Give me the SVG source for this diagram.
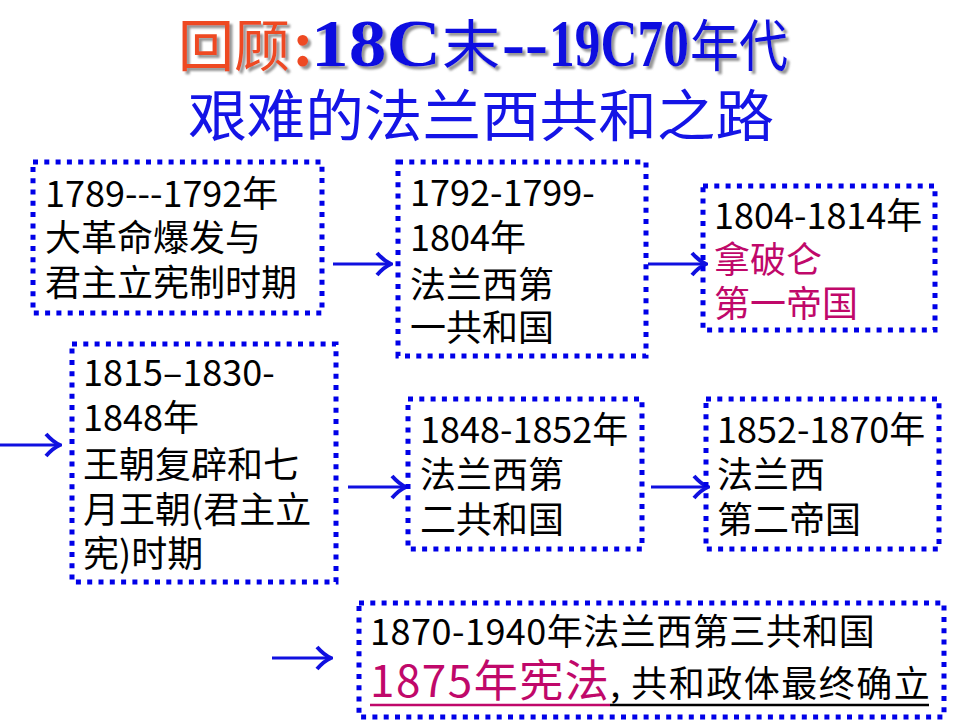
<svg xmlns="http://www.w3.org/2000/svg" width="960" height="720" viewBox="0 0 960 720">
<defs>
<style>
.box{fill:none;stroke:#0000E8;stroke-width:5;stroke-dasharray:5 6.3}
.t{font-family:"Noto Sans CJK SC","Noto Sans",sans-serif;font-size:36px;fill:#000}
.m{fill:#C0086A}
.conn{stroke:#1010E0;stroke-width:3;fill:none}
.ser{font-family:"Liberation Serif","Times New Roman",serif;font-weight:bold}
.cjk{font-family:"Noto Sans CJK SC",sans-serif}
</style>
<filter id="sh" x="-5%" y="-20%" width="110%" height="140%">
<feDropShadow dx="3" dy="3" stdDeviation="1" flood-color="#8a8a8a" flood-opacity="0.9"/>
</filter>
<marker id="ah" markerUnits="userSpaceOnUse" viewBox="-18 -14 20 28" refX="0" refY="0" markerWidth="20" markerHeight="28" orient="auto">
<path d="M-14,-11 Q-7,-3 0,0 Q-7,3 -14,11" stroke="#1010E0" stroke-width="4" fill="none" stroke-linejoin="miter"/>
</marker>
</defs>
<rect width="960" height="720" fill="#fff"/>

<g id="title" filter="url(#sh)" font-size="56">
<text class="cjk" x="178" y="66" fill="#EE4A22" textLength="112" lengthAdjust="spacingAndGlyphs">回顾</text>
<text class="ser" x="292" y="66" fill="#EE4A22" font-size="66">:</text>
<text class="ser" x="311" y="66" fill="#1010E0" font-size="68" textLength="130" lengthAdjust="spacingAndGlyphs">18C</text>
<text class="cjk" x="442" y="66" fill="#1010E0" textLength="58" lengthAdjust="spacingAndGlyphs">末</text>
<text class="ser" x="502" y="66" fill="#1010E0" font-size="68" textLength="46" lengthAdjust="spacingAndGlyphs">--</text>
<text class="ser" x="549" y="66" fill="#1010E0" font-size="68" textLength="140" lengthAdjust="spacingAndGlyphs">19C70</text>
<text class="cjk" x="690" y="66" fill="#1010E0" textLength="98" lengthAdjust="spacingAndGlyphs">年代</text>
</g>
<g id="subtitle">
<text class="cjk" x="188" y="136" font-size="56" fill="#1414E6" textLength="586" lengthAdjust="spacingAndGlyphs">艰难的法兰西共和之路</text>
</g>

<g id="connectors">
<path class="conn" d="M333,264 H391" marker-end="url(#ah)"/>
<path class="conn" d="M648,264 H706" marker-end="url(#ah)"/>
<path class="conn" d="M0,445 H60" marker-end="url(#ah)"/>
<path class="conn" d="M348,487 H406" marker-end="url(#ah)"/>
<path class="conn" d="M651,487 H708" marker-end="url(#ah)"/>
<path class="conn" d="M272,658 H331" marker-end="url(#ah)"/>
</g>

<g id="n1">
<rect class="box" x="33" y="162" width="289" height="151"/>
<text class="t"><tspan x="45" y="207">1789---1792年</tspan><tspan x="45" y="251">大革命爆发与</tspan><tspan x="45" y="296">君主立宪制时期</tspan></text>
</g>
<g id="n2">
<rect class="box" x="398" y="162" width="248" height="194"/>
<text class="t"><tspan x="410" y="206">1792-1799-</tspan><tspan x="410" y="251">1804年</tspan><tspan x="410" y="298">法兰西第</tspan><tspan x="410" y="341">一共和国</tspan></text>
</g>
<g id="n3">
<rect class="box" x="703" y="186" width="232" height="144"/>
<text class="t"><tspan x="714" y="229">1804-1814年</tspan><tspan class="m" x="714" y="273">拿破仑</tspan><tspan class="m" x="714" y="317">第一帝国</tspan></text>
</g>
<g id="n4">
<rect class="box" x="72" y="344" width="264" height="238"/>
<text class="t"><tspan x="83" y="386">1815–1830-</tspan><tspan x="83" y="431">1848年</tspan><tspan x="83" y="478">王朝复辟和七</tspan><tspan x="83" y="523">月王朝(君主立</tspan><tspan x="83" y="567">宪)时期</tspan></text>
</g>
<g id="n5">
<rect class="box" x="408" y="399" width="234" height="150"/>
<text class="t"><tspan x="420" y="443">1848-1852年</tspan><tspan x="420" y="488">法兰西第</tspan><tspan x="420" y="533">二共和国</tspan></text>
</g>
<g id="n6">
<rect class="box" x="706" y="399" width="233" height="150"/>
<text class="t"><tspan x="717" y="443">1852-1870年</tspan><tspan x="717" y="488">法兰西</tspan><tspan x="717" y="533">第二帝国</tspan></text>
</g>
<g id="n7">
<rect class="box" x="359" y="603" width="585" height="114"/>
<text class="t"><tspan x="370" y="645" letter-spacing="0.5">1870-1940年法兰西第三共和国</tspan><tspan class="m" x="370" y="697" font-size="44" letter-spacing="1.5">1875年宪法</tspan><tspan dx="0" letter-spacing="1.5">, 共和政体最终确立</tspan></text>
<line x1="370" y1="705" x2="610" y2="705" stroke="#C0086A" stroke-width="2.5"/>
<line x1="610" y1="705" x2="929" y2="705" stroke="#000" stroke-width="2.5"/>
</g>
</svg>
